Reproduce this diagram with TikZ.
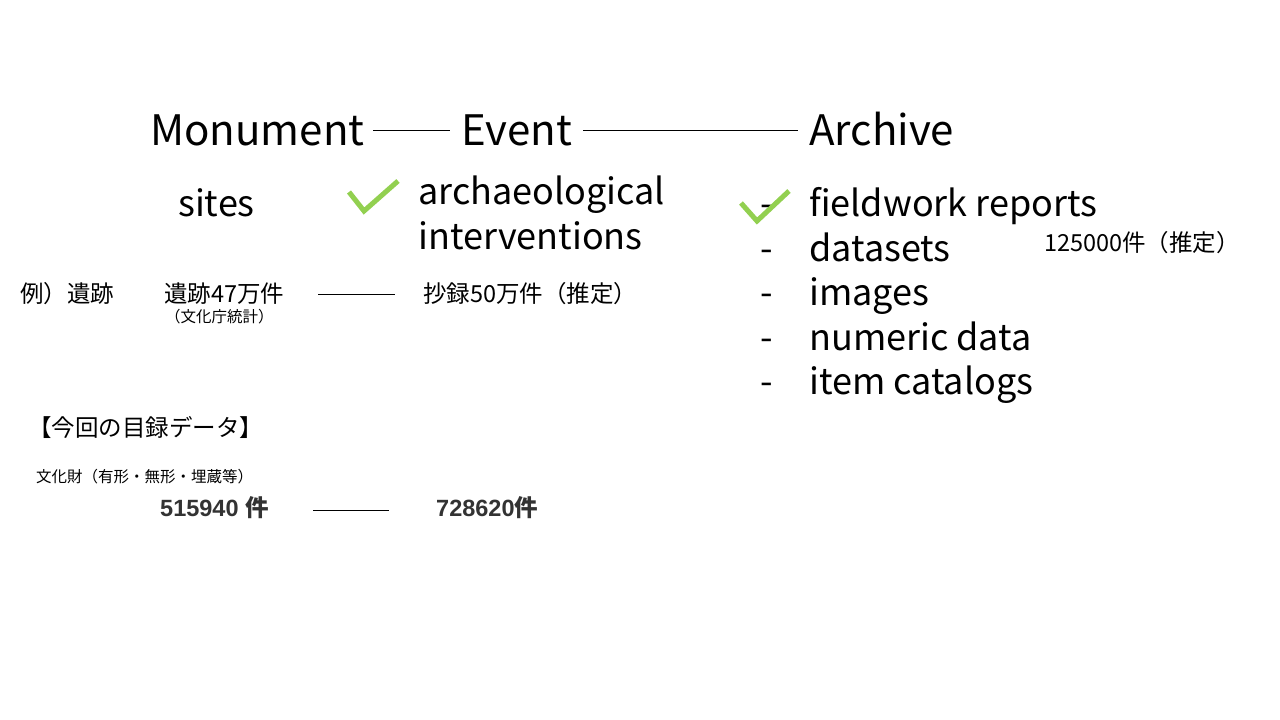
\documentclass[tikz,border=0pt]{standalone}
\usepackage{fontspec}
\setmainfont{Noto Sans CJK JP}
\newfontfamily\boldsans{Liberation Sans}
\definecolor{chk}{HTML}{92D050}
\definecolor{dg}{HTML}{333333}
\begin{document}
\begin{tikzpicture}[x=1pt,y=-1pt,
  big/.style={font=\fontsize{42}{42}\selectfont, inner sep=0pt, anchor=base west},
  mid/.style={font=\fontsize{36}{36}\selectfont, inner sep=0pt, anchor=base west},
  sm/.style={font=\fontsize{23.5}{23.5}\selectfont, inner sep=0pt, anchor=west},
  tiny/.style={font=\fontsize{15.5}{15.5}\selectfont, inner sep=0pt, anchor=west},
  bnum/.style={font=\boldsans\bfseries\fontsize{23.5}{23.5}\selectfont, text=dg, inner sep=0pt, anchor=west},
  conn/.style={line width=0.9pt},
  tick/.style={chk, line width=5pt}]
\useasboundingbox[fill=white] (0,0) rectangle (1280,720);
% headings
\node[big] (mon) at (150,145) {Monument};
\node[big] (ev) at (461,145) {Event};
\node[big] (ar) at (809,145) {Archive};
\draw[conn] (373,130) -- (450,130);
\draw[conn] (583,130) -- (798,130);
% sub items
\node[mid] (sites) at (178,216) {sites};
\node[mid] (arch) at (418,204) {archaeological};
\node[mid] (interv) at (418,249) {interventions};
\draw[tick] (349,192) -- (364,211) -- (398,181);
% archive list
\foreach \t/\yy [count=\i] in {fieldwork reports/216, datasets/261, images/305, numeric data/350, item catalogs/394}{
  \node[mid] (li\i) at (809,\yy) {\t};
  \node[mid] (da\i) at (760,\yy) {-};
}
\draw[tick] (741,203) -- (757,221) -- (789,191);
\node[sm] (cnt) at (1044,243) {125000件（推定）};
% examples
\node[sm] (ex) at (20,294) {例）遺跡};
\node[sm] (site47) at (164,294) {遺跡47万件};
\node[tiny] (stat) at (165,317) {（文化庁統計）};
\coordinate (l1a) at (318,294);
\coordinate (l1b) at (395,294);
\draw[conn] (l1a) -- (l1b);
\node[sm] (abs) at (423,294) {抄録50万件（推定）};
% catalogue
\node[sm] (cat) at (28,427) {【今回の目録データ】};
\node[tiny] (bunka) at (36,477) {文化財（有形・無形・埋蔵等）};
\node[bnum] (n1) at (160,508) {515940 {\rmfamily\bfseries 件}};
\coordinate (l2a) at (313,510);
\coordinate (l2b) at (389,510);
\draw[conn] (l2a) -- (l2b);
\node[bnum] (n2) at (436,508) {728620{\rmfamily\bfseries 件}};
\end{tikzpicture}
\end{document}
